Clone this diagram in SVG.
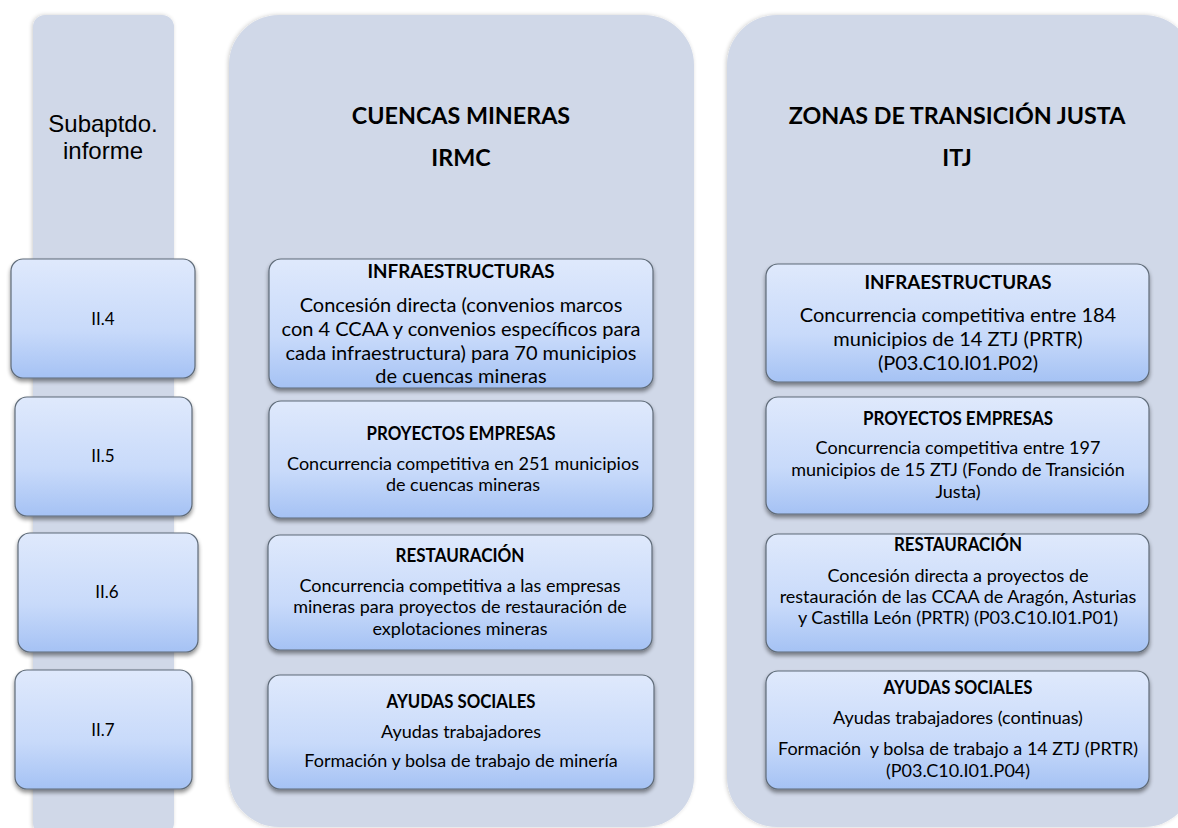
<svg xmlns="http://www.w3.org/2000/svg" width="1178" height="828" viewBox="0 0 1178 828">
<defs>
<linearGradient id="boxg" x1="0" y1="0" x2="0" y2="1">
<stop offset="0" stop-color="#dfe9fc"/>
<stop offset="0.6" stop-color="#c8dafa"/>
<stop offset="1" stop-color="#a5c2f4"/>
</linearGradient>
<filter id="sh" x="-10%" y="-10%" width="120%" height="130%">
<feGaussianBlur in="SourceAlpha" stdDeviation="2"/>
<feOffset dx="0" dy="3" result="b"/>
<feComponentTransfer><feFuncA type="linear" slope="0.45"/></feComponentTransfer>
<feMerge><feMergeNode/><feMergeNode in="SourceGraphic"/></feMerge>
</filter>
<filter id="psh" x="-5%" y="-5%" width="110%" height="110%">
<feGaussianBlur in="SourceAlpha" stdDeviation="2"/>
<feOffset dx="-1" dy="0"/>
<feComponentTransfer><feFuncA type="linear" slope="0.2"/></feComponentTransfer>
<feMerge><feMergeNode/><feMergeNode in="SourceGraphic"/></feMerge>
</filter>
</defs>
<style>
.panel{fill:#d0d8e8;}
.box{fill:url(#boxg);stroke:#5f6b78;stroke-width:1.2;filter:url(#sh);}
.t{font-family:Lato,"Liberation Sans",sans-serif;fill:#000;text-anchor:middle;}
.body{font-size:18px;}
.bodyL{font-size:20px;}
.hd{font-size:19.5px;font-weight:bold;}
.title{font-size:23.3px;font-weight:bold;}
.lab{font-size:17px;}
.sub{font-family:"Liberation Sans",Arial,sans-serif;font-size:24px;text-anchor:middle;fill:#000;}
</style>
<rect width="1178" height="828" fill="#fff"/>

<g id="col-subaptdo">
<rect class="panel" x="33" y="15" width="141" height="820" rx="12" filter="url(#psh)"/>
<text class="sub" x="103" y="132">Subaptdo.</text>
<text class="sub" x="103" y="159">informe</text>
</g>

<g id="panel-cuencas">
<rect class="panel" x="229" y="15" width="465" height="812" rx="50" filter="url(#psh)"/>
<text class="t title" x="461" y="124">CUENCAS MINERAS</text>
<text class="t title" x="461" y="166">IRMC</text>
</g>

<g id="panel-ztj">
<rect class="panel" x="727" y="15" width="467" height="812" rx="50" filter="url(#psh)"/>
<text class="t title" x="957" y="124">ZONAS DE TRANSICIÓN JUSTA</text>
<text class="t title" x="957" y="166">ITJ</text>
</g>

<g id="connectors"></g>

<g id="n-II4">
<rect class="box" x="11" y="259" width="184" height="119" rx="12"/>
<text class="t lab" x="103" y="325">II.4</text>
</g>
<g id="n-II5">
<rect class="box" x="15" y="397" width="177" height="119" rx="12"/>
<text class="t lab" x="103" y="462">II.5</text>
</g>
<g id="n-II6">
<rect class="box" x="18" y="533" width="180" height="119" rx="12"/>
<text class="t lab" x="107" y="598">II.6</text>
</g>
<g id="n-II7">
<rect class="box" x="15" y="670" width="177" height="119" rx="12"/>
<text class="t lab" x="103" y="736">II.7</text>
</g>

<g id="n-irmc-infra">
<rect class="box" x="269" y="259" width="384" height="129" rx="12"/>
<text class="t hd" x="461" y="278" textLength="187" lengthAdjust="spacingAndGlyphs">INFRAESTRUCTURAS</text>
<text class="t bodyL" x="461" y="312">Concesión directa (convenios marcos</text>
<text class="t bodyL" x="461" y="336">con 4 CCAA y convenios específicos para</text>
<text class="t bodyL" x="461" y="360">cada infraestructura) para 70 municipios</text>
<text class="t bodyL" x="461" y="383">de cuencas mineras</text>
</g>
<g id="n-irmc-proy">
<rect class="box" x="269" y="401" width="384" height="117" rx="12"/>
<text class="t hd" x="461" y="440" textLength="189" lengthAdjust="spacingAndGlyphs">PROYECTOS EMPRESAS</text>
<text class="t body" x="463" y="470">Concurrencia competitiva en 251 municipios</text>
<text class="t body" x="463" y="491">de cuencas mineras</text>
</g>
<g id="n-irmc-rest">
<rect class="box" x="268" y="535" width="384" height="115" rx="12"/>
<text class="t hd" x="460" y="562" textLength="129" lengthAdjust="spacingAndGlyphs">RESTAURACIÓN</text>
<text class="t body" x="460" y="592">Concurrencia competitiva a las empresas</text>
<text class="t body" x="460" y="613">mineras para proyectos de restauración de</text>
<text class="t body" x="460" y="635">explotaciones mineras</text>
</g>
<g id="n-irmc-ayud">
<rect class="box" x="268" y="675" width="386" height="114" rx="12"/>
<text class="t hd" x="461" y="708" textLength="149" lengthAdjust="spacingAndGlyphs">AYUDAS SOCIALES</text>
<text class="t body" x="461" y="738">Ayudas trabajadores</text>
<text class="t body" x="461" y="767">Formación y bolsa de trabajo de minería</text>
</g>

<g id="n-itj-infra">
<rect class="box" x="766" y="264" width="383" height="118" rx="12"/>
<text class="t hd" x="958" y="289" textLength="187" lengthAdjust="spacingAndGlyphs">INFRAESTRUCTURAS</text>
<text class="t bodyL" x="958" y="322">Concurrencia competitiva entre 184</text>
<text class="t bodyL" x="958" y="346">municipios de 14 ZTJ (PRTR)</text>
<text class="t bodyL" x="958" y="370">(P03.C10.I01.P02)</text>
</g>
<g id="n-itj-proy">
<rect class="box" x="766" y="397" width="383" height="117" rx="12"/>
<text class="t hd" x="958" y="425" textLength="190" lengthAdjust="spacingAndGlyphs">PROYECTOS EMPRESAS</text>
<text class="t body" x="958" y="454">Concurrencia competitiva entre 197</text>
<text class="t body" x="958" y="476">municipios de 15 ZTJ (Fondo de Transición</text>
<text class="t body" x="958" y="498">Justa)</text>
</g>
<g id="n-itj-rest">
<rect class="box" x="766" y="534" width="383" height="118" rx="12"/>
<text class="t hd" x="958" y="551" textLength="128" lengthAdjust="spacingAndGlyphs">RESTAURACIÓN</text>
<text class="t body" x="958" y="582">Concesión directa a proyectos de</text>
<text class="t body" x="958" y="603">restauración de las CCAA de Aragón, Asturias</text>
<text class="t body" x="958" y="624">y Castilla León (PRTR) (P03.C10.I01.P01)</text>
</g>
<g id="n-itj-ayud">
<rect class="box" x="766" y="671" width="383" height="118" rx="12"/>
<text class="t hd" x="958" y="694" textLength="149" lengthAdjust="spacingAndGlyphs">AYUDAS SOCIALES</text>
<text class="t body" x="958" y="724">Ayudas trabajadores (continuas)</text>
<text class="t body" x="958" y="755" xml:space="preserve">Formación  y bolsa de trabajo a 14 ZTJ (PRTR)</text>
<text class="t body" x="958" y="777">(P03.C10.I01.P04)</text>
</g>
</svg>
